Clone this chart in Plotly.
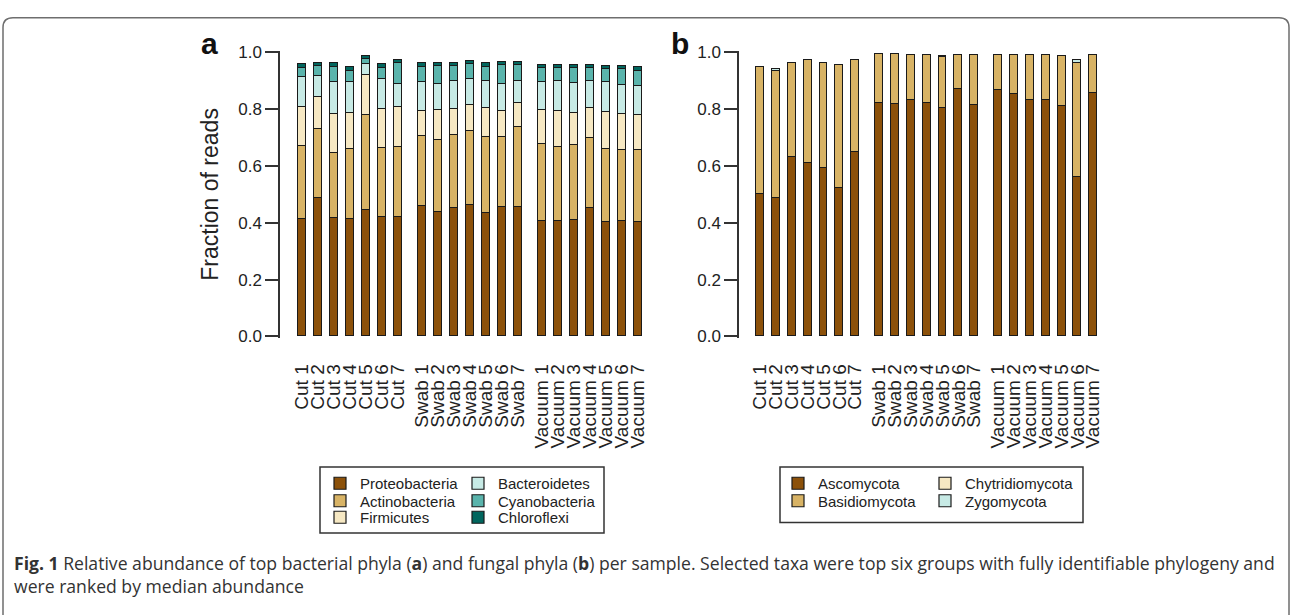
import plotly.graph_objects as go

W, H = 1292, 615

# ---------------- data ----------------
groups = ["Cut", "Swab", "Vacuum"]
sample_labels = [f"{g} {i}" for g in groups for i in range(1, 8)]

bact_names = ["Proteobacteria", "Actinobacteria", "Firmicutes",
              "Bacteroidetes", "Cyanobacteria", "Chloroflexi"]
proteobacteria = [0.414, 0.486, 0.417, 0.414, 0.445, 0.419, 0.419,
                  0.458, 0.437, 0.451, 0.460, 0.435, 0.455, 0.455,
                  0.405, 0.405, 0.410, 0.450, 0.400, 0.405, 0.400]
actinobacteria = [0.257, 0.242, 0.229, 0.246, 0.335, 0.244, 0.247,
                  0.247, 0.254, 0.258, 0.263, 0.267, 0.247, 0.281,
                  0.272, 0.260, 0.262, 0.248, 0.260, 0.250, 0.255]
firmicutes = [0.137, 0.114, 0.136, 0.126, 0.139, 0.136, 0.142,
              0.089, 0.106, 0.091, 0.091, 0.101, 0.089, 0.084,
              0.120, 0.129, 0.114, 0.107, 0.129, 0.127, 0.125]
bacteroidetes = [0.103, 0.075, 0.112, 0.108, 0.038, 0.106, 0.080,
                 0.100, 0.091, 0.100, 0.091, 0.097, 0.097, 0.080,
                 0.097, 0.106, 0.104, 0.095, 0.105, 0.103, 0.099]
cyanobacteria = [0.034, 0.034, 0.055, 0.040, 0.019, 0.038, 0.072,
                 0.055, 0.063, 0.051, 0.052, 0.048, 0.065, 0.053,
                 0.049, 0.043, 0.053, 0.043, 0.046, 0.055, 0.055]
chloroflexi = [0.012, 0.011, 0.013, 0.014, 0.009, 0.014, 0.011,
               0.011, 0.011, 0.011, 0.011, 0.012, 0.012, 0.012,
               0.011, 0.011, 0.011, 0.011, 0.011, 0.011, 0.014]

fung_names = ["Ascomycota", "Basidiomycota", "Chytridiomycota", "Zygomycota"]
ascomycota = [0.502, 0.486, 0.632, 0.611, 0.591, 0.521, 0.649,
              0.822, 0.817, 0.831, 0.822, 0.805, 0.869, 0.814,
              0.865, 0.852, 0.832, 0.830, 0.810, 0.560, 0.855]
basidiomycota = [0.446, 0.449, 0.330, 0.360, 0.371, 0.433, 0.325,
                 0.172, 0.177, 0.160, 0.169, 0.179, 0.122, 0.177,
                 0.125, 0.138, 0.158, 0.160, 0.176, 0.400, 0.135]
chytridiomycota = [0.0, 0.0, 0.0, 0.0, 0.0, 0.0, 0.0,
                   0.0, 0.0, 0.0, 0.0, 0.0, 0.0, 0.0,
                   0.0, 0.0, 0.0, 0.0, 0.0, 0.0, 0.0]
zygomycota = [0.0, 0.005, 0.0, 0.0, 0.0, 0.0, 0.0,
              0.0, 0.0, 0.0, 0.0, 0.004, 0.0, 0.0,
              0.0, 0.0, 0.0, 0.0, 0.002, 0.012, 0.0]

bact_values = [proteobacteria, actinobacteria, firmicutes,
               bacteroidetes, cyanobacteria, chloroflexi]
fung_values = [ascomycota, basidiomycota, chytridiomycota, zygomycota]

palette = ["#8C510A", "#D8B365", "#F6E8C3", "#C7EAE5", "#5AB4AC", "#01665E"]

# ---------------- layout helpers ----------------
def px(x):
    return x / W

def py(y):
    return 1 - y / H

# bar positions: 7 per group, group gap = 1.5 slot
xpos = [g * 7.5 + i for g in range(3) for i in range(7)]

FONT = "Liberation Sans, Arial, Helvetica, sans-serif"
INK = "#222222"

fig = go.Figure()

# legend slots (symbol-left x in px, row centre y in px)
legend_specs_a = [(320, 489), (320, 507), (320, 524),
                  (458, 489), (458, 507), (458, 524)]
legend_specs_b = [(778, 489), (778, 507), (925, 489), (925, 507)]

legend_layout = {}
lidx = 1

def legend_key(n):
    return "legend" if n == 1 else f"legend{n}"

for k, (name, vals) in enumerate(zip(bact_names, bact_values)):
    key = legend_key(lidx)
    lx, ly = legend_specs_a[k]
    legend_layout[key] = dict(x=px(lx), y=py(ly), xanchor="left", yanchor="middle",
                              bgcolor="rgba(0,0,0,0)", borderwidth=0,
                              font=dict(family=FONT, size=15, color=INK))
    fig.add_trace(go.Bar(x=xpos, y=vals, name=name, width=0.5,
                         marker=dict(color=palette[k], line=dict(color="#1a1a1a", width=1.2)),
                         xaxis="x", yaxis="y", legend=key, showlegend=True))
    lidx += 1

for k, (name, vals) in enumerate(zip(fung_names, fung_values)):
    key = legend_key(lidx)
    lx, ly = legend_specs_b[k]
    legend_layout[key] = dict(x=px(lx), y=py(ly), xanchor="left", yanchor="middle",
                              bgcolor="rgba(0,0,0,0)", borderwidth=0,
                              font=dict(family=FONT, size=15, color=INK))
    fig.add_trace(go.Bar(x=xpos, y=vals, name=name, width=0.5,
                         marker=dict(color=palette[k], line=dict(color="#1a1a1a", width=1.2)),
                         xaxis="x2", yaxis="y2", legend=key, showlegend=True))
    lidx += 1

# axes geometry (pixels)
y0_px, y1_px = 337.7, 45.7          # value 0 and value 1
pad = 0.004
ppu = y0_px - y1_px
ydom = [py(y0_px + pad * ppu), py(y1_px - pad * ppu)]

ax_a_left, pitch_a = 280.0, 16.0
ax_b_left, pitch_b = 739.0, 15.87
x_lo_a = -(301.5 - ax_a_left) / pitch_a
x_lo_b = -(760.0 - ax_b_left) / pitch_b
x_hi = 22.0
xdom_a = [px(ax_a_left), px(ax_a_left + (x_hi - x_lo_a) * pitch_a)]
xdom_b = [px(ax_b_left), px(ax_b_left + (x_hi - x_lo_b) * pitch_b)]

yticks = [0, 0.2, 0.4, 0.6, 0.8, 1.0]

def xaxis_cfg(dom, lo, anchor):
    return dict(domain=dom, range=[lo, x_hi], tickmode="array", tickvals=xpos,
                ticktext=sample_labels, tickangle=-90, showline=False, showgrid=False,
                zeroline=False, ticks="", ticklabelstandoff=22, anchor=anchor,
                tickfont=dict(family=FONT, size=19, color=INK))

def yaxis_cfg(anchor):
    return dict(domain=ydom, range=[-pad, 1 + pad], tickmode="array", tickvals=yticks,
                ticktext=[f"{v:.1f}" for v in yticks], showline=True, linecolor="#333",
                linewidth=1.5, ticks="outside", ticklen=13, tickwidth=1.5, tickcolor="#333",
                showgrid=False, zeroline=False, anchor=anchor,
                tickfont=dict(family=FONT, size=17, color=INK))

# outer rounded frame
x0f, x1f, ytf = px(3), px(1289), py(10)
rx, ry = 10 / W, 10 / H
frame_path = (f"M {x0f},{-0.05} L {x0f},{ytf - ry} Q {x0f},{ytf} {x0f + rx},{ytf} "
              f"L {x1f - rx},{ytf} Q {x1f},{ytf} {x1f},{ytf - ry} L {x1f},{-0.05}")

shapes = [
    dict(type="path", xref="paper", yref="paper", path=frame_path,
         line=dict(color="#6e6e6e", width=1.5)),
    dict(type="rect", xref="paper", yref="paper", x0=px(320), x1=px(604), y0=py(540), y1=py(472),
         line=dict(color="#333", width=1.5)),
    dict(type="rect", xref="paper", yref="paper", x0=px(780), x1=px(1083), y0=py(529), y1=py(472),
         line=dict(color="#333", width=1.5)),
]

caption = ("<b>Fig. 1</b> Relative abundance of top bacterial phyla (<b>a</b>) and fungal phyla "
           "(<b>b</b>) per sample. Selected taxa were top six groups with fully identifiable "
           "phylogeny and<br>were ranked by median abundance")

annotations = [
    dict(text="Fraction of reads", x=px(210), y=py(192), xref="paper", yref="paper",
         textangle=-90, showarrow=False, xanchor="center", yanchor="middle",
         font=dict(family=FONT, size=23, color=INK)),
    dict(text="<b>a</b>", x=px(209), y=py(37), xref="paper", yref="paper",
         showarrow=False, xanchor="center", yanchor="middle",
         font=dict(family=FONT, size=30, color="#111")),
    dict(text="<b>b</b>", x=px(680), y=py(37), xref="paper", yref="paper",
         showarrow=False, xanchor="center", yanchor="middle",
         font=dict(family=FONT, size=30, color="#111")),
    dict(text=caption, x=px(12), y=py(556), xref="paper", yref="paper",
         showarrow=False, xanchor="left", yanchor="top", align="left",
         font=dict(family="Open Sans, Lato, sans-serif", size=17.6, color="#333333")),
]

fig.update_layout(
    width=W, height=H, margin=dict(l=0, r=0, t=0, b=0),
    paper_bgcolor="white", plot_bgcolor="white",
    barmode="stack", bargap=0,
    xaxis=xaxis_cfg(xdom_a, x_lo_a, "y"), yaxis=yaxis_cfg("x"),
    xaxis2=xaxis_cfg(xdom_b, x_lo_b, "y2"), yaxis2=yaxis_cfg("x2"),
    shapes=shapes, annotations=annotations,
    **legend_layout,
)

fig.write_html("out.html")
